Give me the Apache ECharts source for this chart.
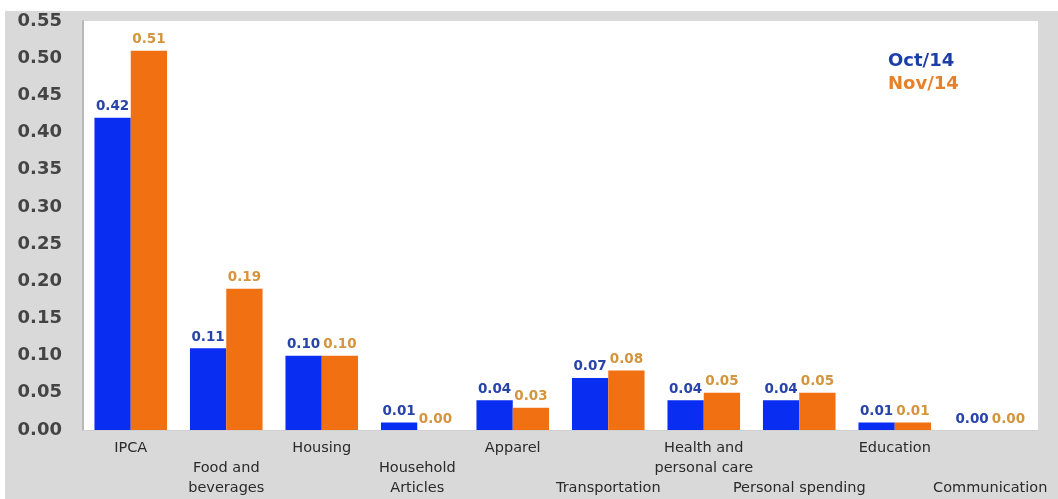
<!DOCTYPE html>
<html>
<head>
<meta charset="utf-8">
<style>
  html, body { margin: 0; padding: 0; background: #ffffff; }
  #chart { width: 1058px; height: 499px; }
</style>
<script src="https://cdn.jsdelivr.net/npm/echarts@6/dist/echarts.min.js"></script>
</head>
<body>
<div id="chart"></div>
<script>
const categories = ['IPCA', 'Food and\nbeverages', 'Housing', 'Household\nArticles', 'Apparel',
  'Transportation', 'Health and\npersonal care', 'Personal spending', 'Education', 'Communication'];
const oct14 = [0.42, 0.11, 0.10, 0.01, 0.04, 0.07, 0.04, 0.04, 0.01, 0.00];
const nov14 = [0.51, 0.19, 0.10, 0.00, 0.03, 0.08, 0.05, 0.05, 0.01, 0.00];
const seriesNames = ['Oct/14', 'Nov/14'];

const FONT = 'DejaVu Sans';
const chart = echarts.init(document.getElementById('chart'), null, { renderer: 'canvas' });
chart.setOption({
  backgroundColor: '#d9d9d9',
  animation: false,
  graphic: [
    { type: 'rect', left: 0, top: 0, shape: { width: 1058, height: 11 }, style: { fill: '#ffffff' }, silent: true },
    { type: 'rect', left: 0, top: 0, shape: { width: 5, height: 499 }, style: { fill: '#ffffff' }, silent: true }
  ],
  grid: {
    left: 83, right: 20, top: 21, bottom: 69,
    show: true, backgroundColor: '#ffffff', borderWidth: 0
  },
  legend: {
    orient: 'vertical', left: 878, top: 47, itemGap: 5, itemWidth: 0, itemHeight: 0,
    textStyle: { fontFamily: FONT, fontWeight: 'bold', fontSize: 18 },
    data: [
      { name: seriesNames[0], icon: 'none', textStyle: { color: '#1c3ea8' } },
      { name: seriesNames[1], icon: 'none', textStyle: { color: '#e8802a' } }
    ],
    selectedMode: false
  },
  xAxis: {
    type: 'category',
    data: categories,
    axisTick: { show: false },
    axisLine: { show: true, lineStyle: { color: '#d0d0d0' } },
    axisLabel: {
      interval: 0, margin: 8,
      fontFamily: FONT, fontSize: 14.5, color: '#2a2a2a', lineHeight: 20,
      formatter: function (v, i) {
        if (i % 2 === 0) return v;
        return (v.indexOf('\n') >= 0 ? '\n' : '\n\n') + v;
      }
    }
  },
  yAxis: {
    type: 'value', min: 0, max: 0.55, interval: 0.05,
    splitLine: { show: false },
    axisTick: { show: false },
    axisLine: { show: true, lineStyle: { color: '#b8b8b8', width: 2 } },
    axisLabel: {
      margin: 21, fontFamily: FONT, fontSize: 18, fontWeight: 'bold', color: '#444',
      formatter: function (v) { return v.toFixed(2); }
    }
  },
  series: [
    {
      name: seriesNames[0], type: 'bar', data: oct14,
      barGap: '0%', barCategoryGap: '24%',
      itemStyle: { color: '#0a2df2' },
      label: {
        show: true, position: 'top', distance: 4,
        fontFamily: FONT, fontSize: 13.5, fontWeight: 'bold', color: '#2844a8',
        formatter: function (p) { return p.value.toFixed(2); }
      }
    },
    {
      name: seriesNames[1], type: 'bar', data: nov14,
      itemStyle: { color: '#f07012' },
      label: {
        show: true, position: 'top', distance: 4,
        fontFamily: FONT, fontSize: 13.5, fontWeight: 'bold', color: '#d4953e',
        formatter: function (p) { return p.value.toFixed(2); }
      }
    }
  ]
});
</script>
</body>
</html>
